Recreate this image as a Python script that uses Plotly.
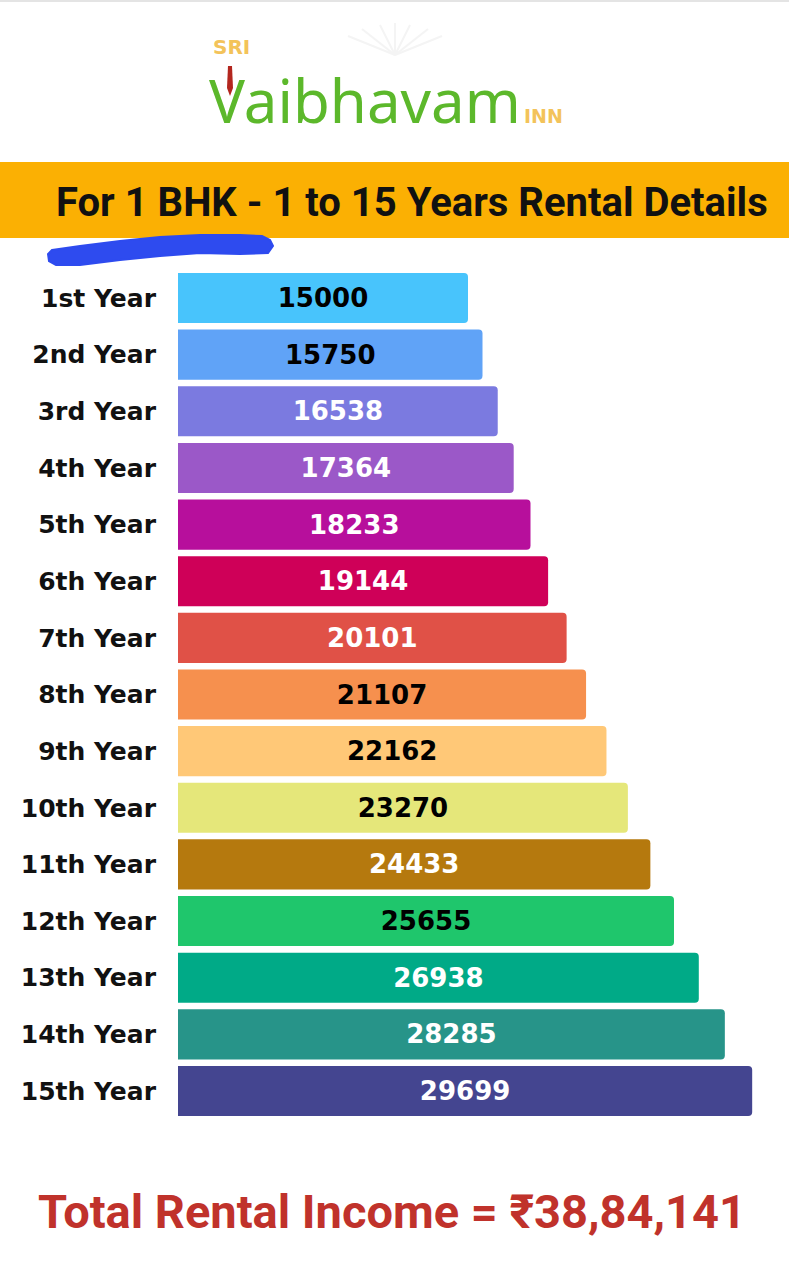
import plotly.graph_objects as go

W, H = 789, 1280

years = ["1st Year", "2nd Year", "3rd Year", "4th Year", "5th Year", "6th Year",
         "7th Year", "8th Year", "9th Year", "10th Year", "11th Year", "12th Year",
         "13th Year", "14th Year", "15th Year"]
rent = [15000, 15750, 16538, 17364, 18233, 19144, 20101, 21107, 22162,
        23270, 24433, 25655, 26938, 28285, 29699]
bar_colors = ["#48C4FC", "#60A3F7", "#7B7AE0", "#9B58C8", "#B70F9C", "#CF0058",
              "#E05147", "#F6904E", "#FFC877", "#E5E77A", "#B5790E", "#1FC66C",
              "#00AA87", "#279489", "#444590"]
text_colors = ["#000000", "#000000", "#FFFFFF", "#FFFFFF", "#FFFFFF", "#FFFFFF",
               "#FFFFFF", "#000000", "#000000", "#000000", "#FFFFFF", "#000000",
               "#FFFFFF", "#FFFFFF", "#FFFFFF"]
header = "For 1 BHK - 1 to 15 Years Rental Details"
total_text = "Total Rental Income = ₹38,84,141"


def px(x):
    return x / W


def py(y):
    return 1 - y / H


fig = go.Figure(go.Bar(
    x=rent, y=years, orientation="h",
    marker=dict(color=bar_colors, line=dict(width=0)),
    text=[str(v) for v in rent], textposition="inside", insidetextanchor="middle",
    textangle=0,
    textfont=dict(family="DejaVu Sans", size=26, color=text_colors, weight="bold"),
    width=0.885, hoverinfo="skip",
))

shapes = [
    # top thin border
    dict(type="rect", xref="paper", yref="paper", x0=0, x1=1, y0=py(2), y1=1,
         fillcolor="#E4E4E4", line=dict(width=0), layer="below"),
    # orange header band
    dict(type="rect", xref="paper", yref="paper", x0=0, x1=1, y0=py(238), y1=py(162),
         fillcolor="#FBB003", line=dict(width=0), layer="below"),
]

# faint lotus decoration above the logo
for (x0, y0, x1, y1) in [(395, 55, 348, 36), (395, 55, 362, 29), (395, 55, 380, 25),
                         (395, 55, 395, 23), (395, 55, 410, 25), (395, 55, 428, 29),
                         (395, 55, 442, 36)]:
    shapes.append(dict(type="line", xref="paper", yref="paper",
                       x0=px(x0), y0=py(y0), x1=px(x1), y1=py(y1),
                       line=dict(color="#F4F4F4", width=2), layer="below"))

# blue marker squiggle
upper = [(52, 250), (80, 246), (120, 241), (160, 237), (200, 235), (240, 235), (262, 236)]
right = [(270, 240), (273, 246), (268, 253)]
lower = [(240, 254), (200, 253), (160, 256), (120, 260), (80, 265), (56, 265)]
left = [(49, 261), (48, 254)]
pts = upper + right + lower + left
path = "M " + " L ".join(f"{px(x):.5f},{py(y):.5f}" for x, y in pts) + " Z"
shapes.append(dict(type="path", xref="paper", yref="paper", path=path,
                   fillcolor="#2E4BEF", line=dict(color="#2E4BEF", width=2)))

# red tick in logo
tick = [(228, 66), (232, 66), (233, 88), (230, 96), (227, 88)]
shapes.append(dict(type="path", xref="paper", yref="paper",
                   path="M " + " L ".join(f"{px(x):.5f},{py(y):.5f}" for x, y in tick) + " Z",
                   fillcolor="#B3261E", line=dict(width=0)))

annotations = [
    dict(text="SRI", x=px(211), y=py(47), xref="paper", yref="paper", xanchor="left",
         yanchor="middle", showarrow=False,
         font=dict(family="DejaVu Sans", size=20, color="#F3C35A", weight="bold")),
    dict(text="Vaibhavam", x=px(207), y=py(100), xref="paper", yref="paper", xanchor="left",
         yanchor="middle", showarrow=False,
         font=dict(family="Noto Sans", size=60, color="#5CB82B")),
    dict(text="INN", x=px(522), y=py(116), xref="paper", yref="paper", xanchor="left",
         yanchor="middle", showarrow=False,
         font=dict(family="DejaVu Sans", size=19, color="#F3C35A", weight="bold")),
    dict(text=header, x=px(412), y=py(202), xref="paper", yref="paper", xanchor="center",
         yanchor="middle", showarrow=False,
         font=dict(family="Roboto", size=40, color="#111111", weight="bold")),
    dict(text=total_text, x=px(392), y=py(1211), xref="paper", yref="paper", xanchor="center",
         yanchor="middle", showarrow=False,
         font=dict(family="Roboto", size=47, color="#C0322B", weight="bold")),
]

x_zero = 178
scale = (468 - 178) / 15000.0
fig.update_layout(
    width=W, height=H, margin=dict(l=0, r=0, t=0, b=0),
    paper_bgcolor="white", plot_bgcolor="white", showlegend=False,
    barcornerradius=4,
    xaxis=dict(domain=[px(x_zero), 1], range=[0, (W - x_zero) / scale], visible=False,
               fixedrange=True),
    yaxis=dict(domain=[py(1119.3), py(269.7)], ticks="",
               showgrid=False, showline=False, zeroline=False, ticklabelstandoff=21,
               tickfont=dict(family="DejaVu Sans", size=25, color="#111111", weight="bold")),
    shapes=shapes, annotations=annotations,
)
fig.update_yaxes(range=[14.5, -0.5], autorange=False)

fig.write_html("out.html", config={"displayModeBar": False},
               post_script="document.body.style.margin='0';")
